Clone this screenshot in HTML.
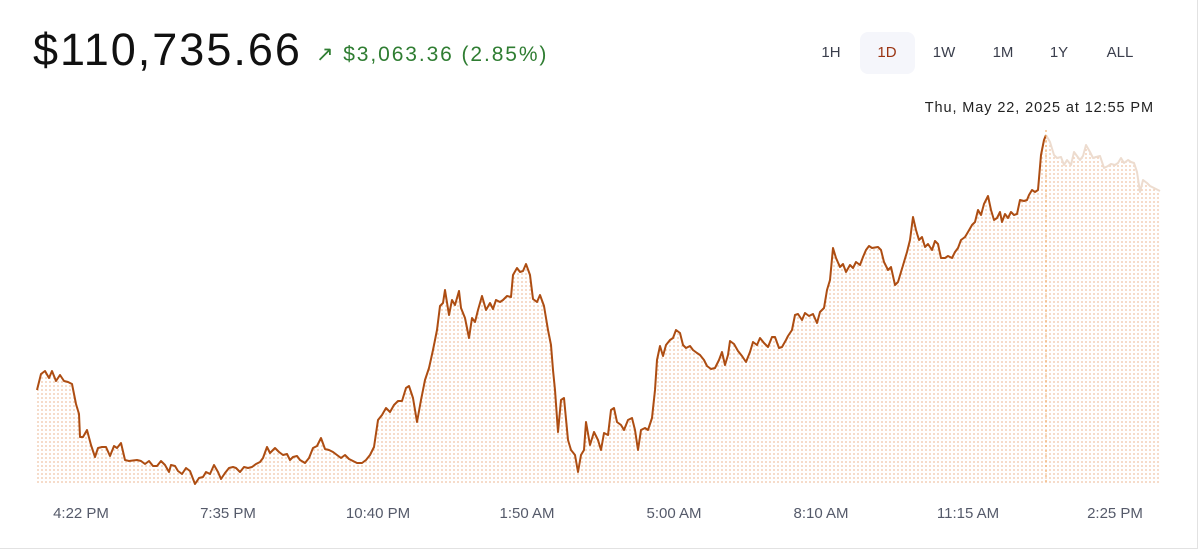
<!DOCTYPE html>
<html><head><meta charset="utf-8"><style>
body{margin:0;width:1200px;height:552px;background:#fff;font-family:"Liberation Sans",sans-serif;overflow:hidden;position:relative}
.box{position:absolute;left:-2px;top:-2px;width:1199px;height:550px;border-right:1px solid #e2e2e2;border-bottom:1px solid #e2e2e2}
.price{position:absolute;left:33px;top:24px;font-size:45px;color:#111;letter-spacing:2px}
.chg{position:absolute;left:316px;top:42px;font-size:21px;color:#2f7d32;letter-spacing:1.9px}
.btn{position:absolute;top:44px;font-size:15px;color:#3a3e4c;transform:translateX(-50%)}
.sel{position:absolute;left:860px;top:32px;width:55px;height:42px;background:#f5f6fb;border-radius:8px}
.date{position:absolute;right:46px;top:100px;font-size:14.5px;color:#222;letter-spacing:0.9px}
.ax{position:absolute;top:505px;font-size:15px;color:#555a6a;transform:translateX(-50%)}
</style></head><body>
<div class="box"></div>
<div class="price">$110,735.66</div>
<div class="chg">↗ $3,063.36 (2.85%)</div>
<div class="sel"></div>
<div class="btn" style="left:831px">1H</div>
<div class="btn" style="left:887px;color:#9a3412">1D</div>
<div class="btn" style="left:944px">1W</div>
<div class="btn" style="left:1003px">1M</div>
<div class="btn" style="left:1059px">1Y</div>
<div class="btn" style="left:1120px">ALL</div>
<div class="date">Thu, May 22, 2025 at 12:55 PM</div>
<svg width="1200" height="552" style="position:absolute;left:0;top:0">
<defs><pattern id="d" width="4" height="4" patternUnits="userSpaceOnUse"><circle cx="2" cy="2" r="0.9" fill="#f0c2a4"/></pattern></defs>
<polygon fill="url(#d)" points="37,484 37,390 41,374 45,371 49,378 52,371 56,381 60,375 64,381 68,382 72,384 76,404 79,414 80,437 83,437 87,430 91,445 95,457 98,448 102,447 106,447 110,456 114,446 117,448 121,443 125,460 129,461 137,460 141,461 145,464 149,461 153,466 157,466 161,461 165,465 169,472 171,465 175,466 178,471 182,474 186,468 190,471 195,484 199,478 203,477 206,472 210,474 214,465 218,472 221,479 225,473 229,468 233,467 236,468 240,472 244,467 248,468 252,467 256,464 260,462 263,458 267,447 270,453 275,448 279,452 283,455 287,454 290,460 293,457 297,456 300,460 305,463 309,458 313,448 317,446 321,438 325,449 329,450 333,452 337,455 341,458 345,455 349,459 353,461 357,463 362,463 366,460 370,455 374,447 378,420 382,415 386,408 390,412 394,405 398,401 402,401 406,388 409,386 413,398 417,422 421,400 425,380 429,368 433,350 437,330 440,306 443,303 445,290 449,315 452,300 455,305 459,291 461,308 465,318 469,338 472,318 475,322 478,310 482,296 486,310 490,303 493,309 496,300 500,302 503,300 507,296 511,297 513,275 517,268 520,272 523,271 526,264 530,275 533,299 537,302 540,295 544,306 548,330 551,345 553,370 555,390 558,432 561,400 564,398 568,440 571,450 575,455 578,472 581,455 584,450 586,422 590,445 594,432 598,440 601,450 604,433 608,435 611,410 614,408 617,422 621,425 624,430 628,420 632,418 635,430 638,450 641,430 645,428 648,430 652,418 655,390 657,360 660,346 663,356 666,345 670,340 673,338 676,330 680,333 683,345 686,348 690,346 693,350 697,353 700,355 704,360 707,366 711,369 715,368 719,360 722,352 725,365 728,355 730,341 734,344 738,351 742,356 746,362 750,352 753,342 757,345 760,338 764,343 768,347 772,337 775,337 779,348 782,347 786,340 788,336 792,330 795,315 798,314 802,320 805,313 809,316 813,314 817,323 820,312 824,308 827,290 830,280 833,248 836,258 840,267 843,264 846,272 850,265 853,268 856,262 860,265 863,257 866,250 869,246 872,248 878,247 881,250 884,262 888,270 891,267 895,285 898,282 901,272 904,262 907,252 910,240 913,217 916,230 919,240 922,237 925,247 928,244 932,250 935,241 938,244 941,258 945,258 948,256 952,258 955,252 958,248 961,240 965,237 968,232 972,225 975,222 978,210 981,215 984,204 988,196 991,210 994,220 997,218 1000,212 1002,222 1005,214 1008,218 1011,212 1014,215 1017,214 1020,200 1024,201 1027,200 1029,195 1032,190 1035,192 1038,190 1041,155 1044,140 1046,135 1050,142 1054,155 1057,158 1061,157 1064,165 1067,160 1071,165 1074,152 1077,156 1080,160 1083,156 1086,145 1090,152 1093,158 1096,157 1100,156 1104,168 1108,166 1111,164 1115,165 1118,163 1121,158 1124,163 1128,160 1131,162 1134,163 1137,172 1140,192 1143,180 1147,183 1150,186 1154,188 1160,191 1160,484"/>
<polyline fill="none" stroke="#ad4d12" stroke-width="2" stroke-linejoin="round" points="37,390 41,374 45,371 49,378 52,371 56,381 60,375 64,381 68,382 72,384 76,404 79,414 80,437 83,437 87,430 91,445 95,457 98,448 102,447 106,447 110,456 114,446 117,448 121,443 125,460 129,461 137,460 141,461 145,464 149,461 153,466 157,466 161,461 165,465 169,472 171,465 175,466 178,471 182,474 186,468 190,471 195,484 199,478 203,477 206,472 210,474 214,465 218,472 221,479 225,473 229,468 233,467 236,468 240,472 244,467 248,468 252,467 256,464 260,462 263,458 267,447 270,453 275,448 279,452 283,455 287,454 290,460 293,457 297,456 300,460 305,463 309,458 313,448 317,446 321,438 325,449 329,450 333,452 337,455 341,458 345,455 349,459 353,461 357,463 362,463 366,460 370,455 374,447 378,420 382,415 386,408 390,412 394,405 398,401 402,401 406,388 409,386 413,398 417,422 421,400 425,380 429,368 433,350 437,330 440,306 443,303 445,290 449,315 452,300 455,305 459,291 461,308 465,318 469,338 472,318 475,322 478,310 482,296 486,310 490,303 493,309 496,300 500,302 503,300 507,296 511,297 513,275 517,268 520,272 523,271 526,264 530,275 533,299 537,302 540,295 544,306 548,330 551,345 553,370 555,390 558,432 561,400 564,398 568,440 571,450 575,455 578,472 581,455 584,450 586,422 590,445 594,432 598,440 601,450 604,433 608,435 611,410 614,408 617,422 621,425 624,430 628,420 632,418 635,430 638,450 641,430 645,428 648,430 652,418 655,390 657,360 660,346 663,356 666,345 670,340 673,338 676,330 680,333 683,345 686,348 690,346 693,350 697,353 700,355 704,360 707,366 711,369 715,368 719,360 722,352 725,365 728,355 730,341 734,344 738,351 742,356 746,362 750,352 753,342 757,345 760,338 764,343 768,347 772,337 775,337 779,348 782,347 786,340 788,336 792,330 795,315 798,314 802,320 805,313 809,316 813,314 817,323 820,312 824,308 827,290 830,280 833,248 836,258 840,267 843,264 846,272 850,265 853,268 856,262 860,265 863,257 866,250 869,246 872,248 878,247 881,250 884,262 888,270 891,267 895,285 898,282 901,272 904,262 907,252 910,240 913,217 916,230 919,240 922,237 925,247 928,244 932,250 935,241 938,244 941,258 945,258 948,256 952,258 955,252 958,248 961,240 965,237 968,232 972,225 975,222 978,210 981,215 984,204 988,196 991,210 994,220 997,218 1000,212 1002,222 1005,214 1008,218 1011,212 1014,215 1017,214 1020,200 1024,201 1027,200 1029,195 1032,190 1035,192 1038,190 1041,155 1044,140 1046,135"/>
<polyline fill="none" stroke="#eddccf" stroke-width="2" stroke-linejoin="round" points="1046,135 1050,142 1054,155 1057,158 1061,157 1064,165 1067,160 1071,165 1074,152 1077,156 1080,160 1083,156 1086,145 1090,152 1093,158 1096,157 1100,156 1104,168 1108,166 1111,164 1115,165 1118,163 1121,158 1124,163 1128,160 1131,162 1134,163 1137,172 1140,192 1143,180 1147,183 1150,186 1154,188 1160,191"/>
<line x1="1046" y1="130" x2="1046" y2="484" stroke="#f0a050" stroke-width="1" stroke-dasharray="2,3"/>
</svg>
<div class="ax" style="left:81px">4:22 PM</div>
<div class="ax" style="left:228px">7:35 PM</div>
<div class="ax" style="left:378px">10:40 PM</div>
<div class="ax" style="left:527px">1:50 AM</div>
<div class="ax" style="left:674px">5:00 AM</div>
<div class="ax" style="left:821px">8:10 AM</div>
<div class="ax" style="left:968px">11:15 AM</div>
<div class="ax" style="left:1115px">2:25 PM</div>
</body></html>
